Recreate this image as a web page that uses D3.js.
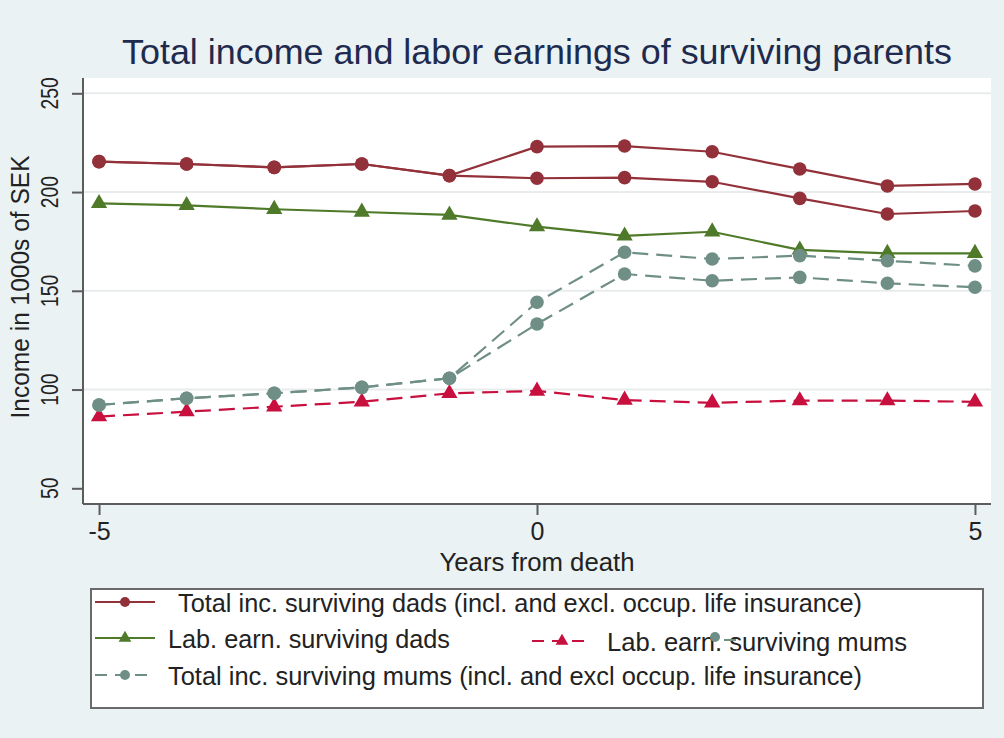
<!DOCTYPE html>
<html>
<head>
<meta charset="utf-8">
<script src="https://cdn.jsdelivr.net/npm/d3@7"></script>
<style>
    html, body { margin: 0; padding: 0; background: #eaf2f3; }
    svg { display: block; font-family: 'Liberation Sans', Arial, sans-serif; }
</style>
</head>
<body>
<div id="chart"></div>
<script>
// Values (income in 1000s of SEK)
const years = [-5, -4, -3, -2, -1, 0, 1, 2, 3, 4, 5];
const dadTotalIncl = [215.4, 214.2, 212.5, 214.2, 208.3, 223.0, 223.3, 220.4, 211.7, 203.1, 204.1];
const dadTotalExcl = [215.4, 214.2, 212.5, 214.2, 208.3, 207.0, 207.3, 205.2, 196.8, 188.9, 190.4];
const dadLabor = [194.3, 193.3, 191.3, 189.9, 188.4, 182.5, 177.8, 179.9, 170.7, 169.0, 169.0];
const mumTotalIncl = [92.2, 95.6, 98.1, 101.1, 105.7, 144.2, 169.5, 166.1, 167.8, 165.2, 162.6];
const mumTotalExcl = [92.2, 95.6, 98.1, 101.1, 105.7, 133.2, 158.5, 155.1, 156.8, 153.8, 151.8];
const mumLabor = [86.3, 88.8, 91.3, 93.8, 98.1, 99.3, 94.7, 93.3, 94.4, 94.4, 93.8];
const xTicks = [-5, 0, 5];
const yTicks = [50, 100, 150, 200, 250];

const colors = {
    maroon: '#93313a',
    green: '#4e7a29',
    cranberry: '#c8103f',
    teal: '#6f8f86'
};

const series = [
    { values: dadTotalIncl, color: colors.maroon, marker: 'circle', dash: null },
    { values: dadTotalExcl, color: colors.maroon, marker: 'circle', dash: null },
    { values: dadLabor, color: colors.green, marker: 'triangle', dash: null },
    { values: mumLabor, color: colors.cranberry, marker: 'triangle', dash: '16,8' },
    { values: mumTotalIncl, color: colors.teal, marker: 'circle', dash: '16,8' },
    { values: mumTotalExcl, color: colors.teal, marker: 'circle', dash: '16,8' }
];

const W = 1004, H = 738;
const margin = { top: 78, right: 13, bottom: 234, left: 83 };

const svg = d3.select('#chart').append('svg')
    .attr('width', W)
    .attr('height', H);

svg.append('rect').attr('width', W).attr('height', H).attr('fill', '#eaf2f3');

// Plot region
svg.append('rect')
    .attr('x', margin.left).attr('y', margin.top)
    .attr('width', W - margin.left - margin.right)
    .attr('height', H - margin.top - margin.bottom)
    .attr('fill', '#ffffff');

const x = d3.scaleLinear().domain([-5.183, 5.183]).range([margin.left, W - margin.right]);
const y = d3.scaleLinear().domain([42.05, 257.75]).range([H - margin.bottom, margin.top]);

// Grid
svg.append('g')
    .selectAll('line')
    .data(yTicks.filter(v => v > 50))
    .enter()
    .append('line')
    .attr('x1', margin.left).attr('x2', W - margin.right)
    .attr('y1', d => y(d)).attr('y2', d => y(d))
    .attr('stroke', '#e8eced')
    .attr('stroke-width', 2);

// Axes
const yAxis = svg.append('g')
    .attr('transform', `translate(${margin.left},0)`)
    .call(d3.axisLeft(y).tickValues(yTicks).tickSize(11).tickPadding(0).tickFormat(d => String(d)));
yAxis.selectAll('text').remove();
yAxis.append('g')
    .selectAll('text')
    .data(yTicks)
    .enter()
    .append('text')
    .attr('transform', d => `translate(-25,${y(d)}) rotate(-90)`)
    .attr('text-anchor', 'middle')
    .attr('fill', '#222')
    .style('font-size', '24px')
    .attr('textLength', d => String(d).length * 10.8)
    .attr('lengthAdjust', 'spacingAndGlyphs')
    .text(d => d);

const xAxis = svg.append('g')
    .attr('transform', `translate(0,${H - margin.bottom})`)
    .call(d3.axisBottom(x).tickValues(xTicks).tickSize(11).tickPadding(5).tickFormat(d => String(d)));
xAxis.selectAll('text')
    .attr('fill', '#222')
    .style('font-size', '25px')
    .attr('dy', '0.8em');

[yAxis, xAxis].forEach(a => {
    a.select('.domain').attr('stroke', '#5c5c5c').attr('stroke-width', 2);
    a.selectAll('.tick line').attr('stroke', '#5c5c5c').attr('stroke-width', 2);
});
yAxis.select('.domain').attr('d', `M0,${H - margin.bottom}V${margin.top}`);
xAxis.select('.domain').attr('d', `M${margin.left},0H${W - margin.right}`);

// Titles
svg.append('text')
    .attr('x', 537).attr('y', 64)
    .attr('text-anchor', 'middle')
    .attr('fill', '#1e2b4f')
    .style('font-size', '35px')
    .attr('textLength', 830)
    .attr('lengthAdjust', 'spacingAndGlyphs')
    .text('Total income and labor earnings of surviving parents');

svg.append('text')
    .attr('transform', 'translate(29,287) rotate(-90)')
    .attr('text-anchor', 'middle')
    .attr('fill', '#222')
    .style('font-size', '26px')
    .attr('textLength', 263)
    .attr('lengthAdjust', 'spacingAndGlyphs')
    .text('Income in 1000s of SEK');

svg.append('text')
    .attr('x', 537).attr('y', 571)
    .attr('text-anchor', 'middle')
    .attr('fill', '#222')
    .style('font-size', '25px')
    .attr('textLength', 195)
    .attr('lengthAdjust', 'spacingAndGlyphs')
    .text('Years from death');

// Marker helper
const triangle = d3.symbol().type(d3.symbolTriangle);
function drawMarker(g, marker, color, cx, cy, big) {
    if (marker === 'circle') {
        g.append('circle')
            .attr('cx', cx).attr('cy', cy)
            .attr('r', big ? 6.8 : 5)
            .attr('fill', color);
    } else {
        g.append('path')
            .attr('d', triangle.size(big ? 115 : 70)())
            .attr('transform', `translate(${cx},${cy})`)
            .attr('fill', color);
    }
}

// Lines and markers
const line = d3.line()
    .x((d, i) => x(years[i]))
    .y(d => y(d));

const marks = svg.append('g');
series.forEach(s => {
    marks.append('path')
        .datum(s.values)
        .attr('d', line)
        .attr('fill', 'none')
        .attr('stroke', s.color)
        .attr('stroke-width', 2.2)
        .attr('stroke-dasharray', s.dash);
    const mg = marks.append('g');
    s.values.forEach((v, i) => drawMarker(mg, s.marker, s.color, x(years[i]), y(v), true));
});

// Legend
const legend = svg.append('g');
legend.append('rect')
    .attr('x', 91).attr('y', 589)
    .attr('width', 892).attr('height', 119)
    .attr('fill', '#ffffff')
    .attr('stroke', '#6a6a6a')
    .attr('stroke-width', 2);

const legendItems = [
    { label: 'Total inc. surviving dads (incl. and excl. occup. life insurance)', color: colors.maroon, marker: 'circle', dash: null, kx: 95, ky: 602, tx: 178, tlen: 684 },
    { label: 'Lab. earn. surviving dads', color: colors.green, marker: 'triangle', dash: null, kx: 95, ky: 638, tx: 168, tlen: 282 },
    { label: 'Lab. earn. surviving mums', color: colors.cranberry, marker: 'triangle', dash: '12,8', kx: 532, ky: 641, tx: 607, tlen: 300 },
    { label: 'Total inc. surviving mums (incl. and excl occup. life insurance)', color: colors.teal, marker: 'circle', dash: '12,8', kx: 95, ky: 675, tx: 168, tlen: 694 }
];

legendItems.forEach(d => {
    const g = legend.append('g');
    g.append('line')
        .attr('x1', d.kx).attr('x2', d.kx + 60)
        .attr('y1', d.ky).attr('y2', d.ky)
        .attr('stroke', d.color)
        .attr('stroke-width', 2)
        .attr('stroke-dasharray', d.dash);
    drawMarker(g, d.marker, d.color, d.kx + 30, d.ky, false);
    g.append('text')
        .attr('x', d.tx).attr('y', d.ky + 10)
        .attr('fill', '#222')
        .style('font-size', '26px')
        .attr('textLength', d.tlen)
        .attr('lengthAdjust', 'spacingAndGlyphs')
        .text(d.label);
});

// stray key of the excl. mums series, drawn over the text as in the original
const stray = legend.append('g');
stray.append('line')
    .attr('x1', 724).attr('x2', 736)
    .attr('y1', 640).attr('y2', 640)
    .attr('stroke', colors.teal).attr('stroke-width', 2);
drawMarker(stray, 'circle', colors.teal, 715, 637, false);
</script>
</body>
</html>
